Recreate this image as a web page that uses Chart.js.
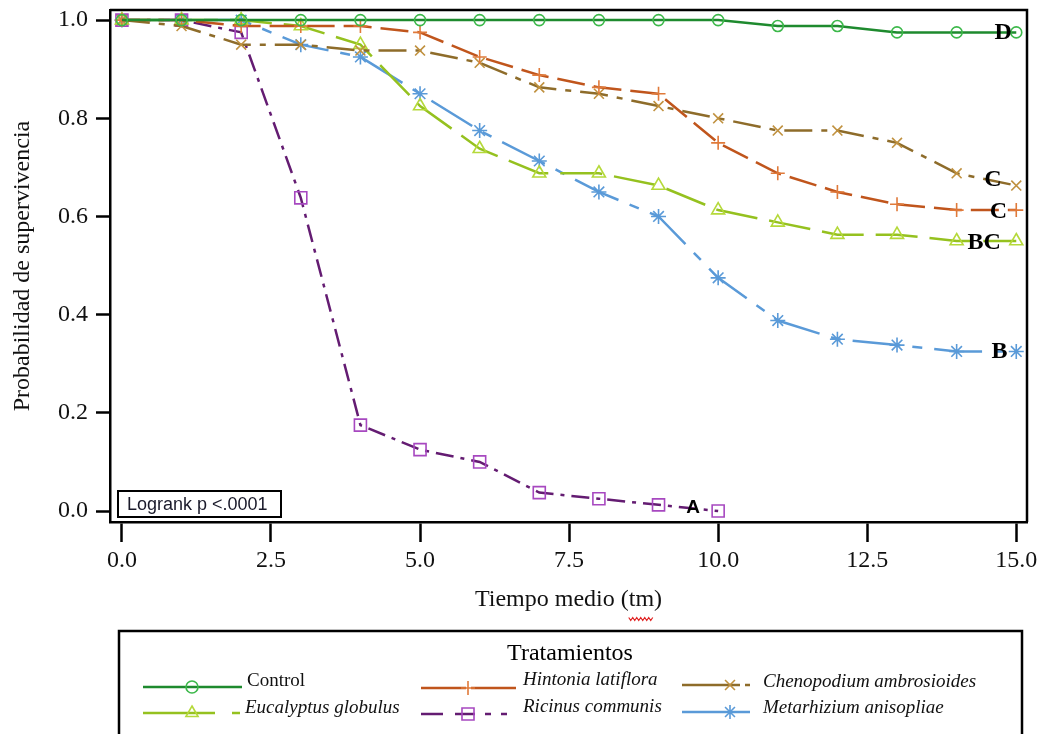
<!DOCTYPE html>
<html>
<head>
<meta charset="utf-8">
<script src="https://cdn.jsdelivr.net/npm/chart.js@4/dist/chart.umd.min.js"></script>
<style>
	body { margin: 0; background: #fff; }
	canvas { display: block; }
</style>
</head>
<body>
<canvas id="myChart" width="1042" height="734"></canvas>
<script>
const days = [0, 1, 2, 3, 4, 5, 6, 7, 8, 9, 10, 11, 12, 13, 14, 15]
const control = [1, 1, 1, 1, 1, 1, 1, 1, 1, 1, 1, 0.988, 0.988, 0.975, 0.975, 0.975]
const hintonia = [1, 1, 0.988, 0.988, 0.988, 0.975, 0.925, 0.888, 0.863, 0.85, 0.75, 0.688, 0.65, 0.625, 0.613, 0.613]
const chenopodium = [1, 0.988, 0.95, 0.95, 0.938, 0.938, 0.913, 0.863, 0.85, 0.825, 0.8, 0.775, 0.775, 0.75, 0.688, 0.663]
const eucalyptus = [1, 1, 1, 0.988, 0.95, 0.825, 0.738, 0.688, 0.688, 0.663, 0.613, 0.588, 0.563, 0.563, 0.55, 0.55]
const ricinus = [1, 1, 0.975, 0.638, 0.175, 0.125, 0.1, 0.0375, 0.025, 0.0125, 0]
const metarhizium = [1, 1, 1, 0.95, 0.925, 0.85, 0.775, 0.713, 0.65, 0.6, 0.475, 0.388, 0.35, 0.338, 0.325, 0.325]

const xTicks = [0, 2.5, 5, 7.5, 10, 12.5, 15]
const yTicks = [0, 0.2, 0.4, 0.6, 0.8, 1]

// letras de significancia junto al final de cada curva
const groupLetters = ['D', 'C', 'C', 'BC', 'B', 'A']
const letterX = [14.78, 14.61, 14.7, 14.46, 14.72, 9.58]
const letterY = [0.974, 0.674, 0.609, 0.546, 0.324, 0.006]

const serif = 'Liberation Serif'

function pts(vals) {
	return vals.map((v, i) => ({ x: days[i], y: v }))
}

function series(label, vals, line, point, style, dash, radius) {
	return {
		label: label,
		data: pts(vals),
		borderColor: line,
		borderWidth: 2.5,
		borderDash: dash,
		pointStyle: style,
		pointRadius: radius,
		pointBorderColor: point,
		pointBackgroundColor: 'transparent',
		pointBorderWidth: 1.6,
		tension: 0,
	}
}

const datasets = [
	series('Control', control, '#1e8a2e', '#3cb84a', 'circle', [], 5.5),
	series('Hintonia latiflora', hintonia, '#c0551c', '#e07a3a', 'cross', [28, 9], 7),
	series('Chenopodium ambrosioides', chenopodium, '#8e6c2a', '#c0913f', 'crossRot', [28, 9, 6, 9], 7),
	series('Eucalyptus globulus', eucalyptus, '#95c11f', '#b5d93a', 'triangle', [42, 12], 7.5),
	series('Ricinus communis', ricinus, '#641c72', '#a748c0', 'rect', [18, 7, 4, 7], 8.5),
	series('Metarhizium anisopliae', metarhizium, '#5a9ad8', '#5a9ad8', 'star', [48, 12, 10, 12], 7.5),
]

// muestras de la leyenda: [dataset, x0, x1, y, marcador x, texto x, texto y, dash]
const legendRows = [
	[0, 143, 242, 687, 192, 247, 681, []],
	[3, 143, 240, 713, 192, 245, 708, [72, 17, 8, 200]],
	[1, 421, 516, 688, 468, 523, 680, [45, 5, 200]],
	[4, 421, 516, 714, 468, 523, 707, [22, 12, 20, 10, 6, 10, 6, 10]],
	[2, 682, 750, 685, 730, 763, 682, [58, 5, 10]],
	[5, 682, 750, 712, 730, 763, 708, []],
]

function marker(ctx, ds, x, y, r) {
	ctx.save()
	ctx.setLineDash([])
	ctx.strokeStyle = ds.pointBorderColor
	ctx.fillStyle = 'rgba(0,0,0,0)'
	ctx.lineWidth = 1.6
	Chart.helpers.drawPoint(ctx, { pointStyle: ds.pointStyle, radius: r, rotation: 0, borderWidth: 1.6 }, x, y)
	ctx.restore()
}

const extras = {
	id: 'extras',
	afterDraw(chart) {
		const ctx = chart.ctx
		const a = chart.chartArea
		const sx = chart.scales.x
		const sy = chart.scales.y
		ctx.save()

		ctx.strokeStyle = '#000'
		ctx.lineWidth = 2.5
		ctx.beginPath()
		ctx.moveTo(a.left, a.top)
		ctx.lineTo(a.right, a.top)
		ctx.lineTo(a.right, a.bottom)
		ctx.stroke()

		ctx.fillStyle = '#000'
		ctx.textAlign = 'center'
		ctx.textBaseline = 'middle'
		groupLetters.forEach((t, i) => {
			ctx.font = t === 'A' ? 'bold 19px Liberation Sans' : 'bold 24px ' + serif
			ctx.fillText(t, sx.getPixelForValue(letterX[i]), sy.getPixelForValue(letterY[i]))
		})

		ctx.fillStyle = '#fff'
		ctx.fillRect(118, 491, 163, 26)
		ctx.lineWidth = 2
		ctx.strokeRect(118, 491, 163, 26)
		ctx.fillStyle = '#1a1a2a'
		ctx.textAlign = 'left'
		ctx.font = '18px Liberation Sans'
		ctx.fillText('Logrank p <.0001', 127, 505)

		// subrayado ondulado rojo bajo "tm"
		ctx.font = '24px ' + serif
		const full = 'Tiempo medio (tm)'
		const start = (sx.left + sx.right) / 2 - ctx.measureText(full).width / 2
		const u0 = start + ctx.measureText('Tiempo medio (').width
		const u1 = u0 + ctx.measureText('tm').width
		ctx.strokeStyle = '#e02020'
		ctx.lineWidth = 1.2
		ctx.beginPath()
		for (let x = u0, k = 0; x <= u1; x += 2, k++) {
			const y = 619 + (k % 2 ? 1.5 : -1.5)
			if (k === 0) ctx.moveTo(x, y)
			else ctx.lineTo(x, y)
		}
		ctx.stroke()

		ctx.strokeStyle = '#000'
		ctx.lineWidth = 2.5
		ctx.strokeRect(119, 631, 903, 130)
		ctx.fillStyle = '#000'
		ctx.textAlign = 'center'
		ctx.font = '24px ' + serif
		ctx.fillText('Tratamientos', 570, 654)

		legendRows.forEach(r => {
			const ds = chart.data.datasets[r[0]]
			ctx.strokeStyle = ds.borderColor
			ctx.lineWidth = 2.5
			ctx.setLineDash(r[7])
			ctx.beginPath()
			ctx.moveTo(r[1], r[3])
			ctx.lineTo(r[2], r[3])
			ctx.stroke()
			ctx.setLineDash([])
			marker(ctx, ds, r[4], r[3], ds.pointStyle === 'circle' ? 6 : ds.pointStyle === 'rect' ? 8.5 : 7)
			ctx.fillStyle = '#111'
			ctx.textAlign = 'left'
			ctx.font = (r[0] === 0 ? '' : 'italic ') + '19px ' + serif
			ctx.fillText(ds.label, r[5], r[6])
		})
		ctx.restore()
	},
}

const ctx = document.getElementById('myChart').getContext('2d')
const myChart = new Chart(ctx, {
	type: 'line',
	data: { datasets: datasets },
	options: {
		responsive: false,
		animation: false,
		layout: { padding: { left: 0, top: 10, right: 15, bottom: 112 } },
		plugins: { legend: { display: false }, tooltip: { enabled: false } },
		scales: {
			x: {
				type: 'linear',
				min: -0.2,
				max: 15.18,
				afterBuildTicks: s => { s.ticks = xTicks.map(v => ({ value: v })) },
				afterFit: s => {
					s.height = 100
					s.paddingLeft = 0
					s.paddingRight = 0
				},
				grid: { drawOnChartArea: false, drawTicks: true, tickLength: 20, tickColor: '#000', tickWidth: 2.5 },
				border: { display: true, color: '#000', width: 2.5 },
				ticks: {
					color: '#111',
					padding: 4,
					maxRotation: 0,
					autoSkip: false,
					font: { family: serif, size: 24 },
					callback: v => v.toFixed(1),
				},
				title: {
					display: true,
					text: 'Tiempo medio (tm)',
					color: '#111',
					font: { family: serif, size: 24 },
					padding: { top: 0, bottom: 8 },
				},
			},
			y: {
				min: -0.0224,
				max: 1.0204,
				afterBuildTicks: s => { s.ticks = yTicks.map(v => ({ value: v })) },
				afterFit: s => {
					s.width = 110
					s.paddingTop = 0
					s.paddingBottom = 0
				},
				grid: { drawOnChartArea: false, drawTicks: true, tickLength: 14, tickColor: '#000', tickWidth: 2.5 },
				border: { display: true, color: '#000', width: 2.5 },
				ticks: {
					color: '#111',
					padding: 8,
					font: { family: serif, size: 24 },
					callback: v => v.toFixed(1),
				},
				title: {
					display: true,
					text: 'Probabilidad de supervivencia',
					color: '#111',
					font: { family: serif, size: 24 },
					padding: { top: 8, bottom: 0 },
				},
			},
		},
	},
	plugins: [extras],
})
</script>
</body>
</html>
